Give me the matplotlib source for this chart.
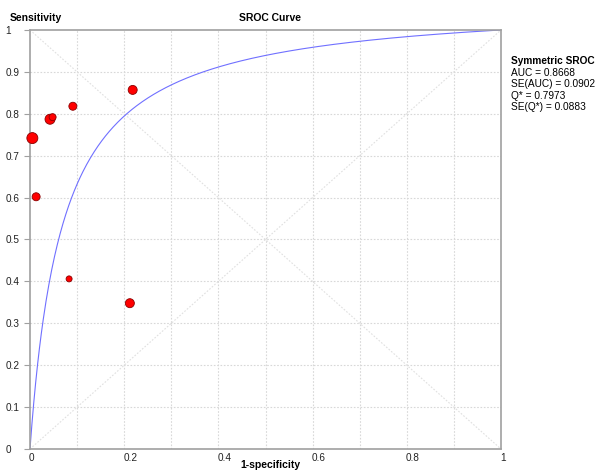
import numpy as np
import matplotlib
matplotlib.use("Agg")
import matplotlib.pyplot as plt
from matplotlib.transforms import ScaledTranslation

plt.rcParams['font.family'] = ['Liberation Sans', 'DejaVu Sans']

# study points (1-specificity, sensitivity)
fpr = [0.005, 0.013, 0.0425, 0.048, 0.091, 0.083, 0.218, 0.212]
sens = [0.742, 0.602, 0.787, 0.792, 0.818, 0.406, 0.857, 0.348]
# relative study weight -> marker size
weight = [11, 8, 10, 7, 8, 6, 9, 9]

# symmetric SROC summary
auc = 0.8668
se_auc = 0.0902
q_star = 0.7973
se_q = 0.0883

ticks = [0, 0.2, 0.4, 0.6, 0.8, 1]
yticks = [0, 0.1, 0.2, 0.3, 0.4, 0.5, 0.6, 0.7, 0.8, 0.9, 1]
ticklabels = ["0", "0.2", "0.4", "0.6", "0.8", "1"]
yticklabels = ["0", "0.1", "0.2", "0.3", "0.4", "0.5", "0.6", "0.7", "0.8", "0.9", "1"]

fig = plt.figure(figsize=(6, 4.76), dpi=100)
ax = fig.add_axes([0.05, 0.0567, 0.785, 0.8803])

# fitted symmetric curve: logit(sens) = D + logit(fpr), D = 2*logit(Q*)
D = 2 * np.log(q_star / (1 - q_star))
xs = np.linspace(0, 1, 500)
odds = np.exp(D) * xs / np.clip(1 - xs, 1e-12, None)
ys = np.where(xs < 1, odds / (1 + odds), 1.0)

grid_c = '#d8d8d8'
for v in np.arange(0.1, 1.0, 0.1):
    ax.axvline(v, color=grid_c, lw=0.8, ls=(0, (1.5, 1.5)), zorder=0)
    ax.axhline(v, color=grid_c, lw=0.8, ls=(0, (1.5, 1.5)), zorder=0)
ax.plot([0, 1], [0, 1], color='#e0e0e0', lw=0.8, ls=(0, (1.5, 1.5)), zorder=0)
ax.plot([0, 1], [1, 0], color='#e0e0e0', lw=0.8, ls=(0, (1.5, 1.5)), zorder=0)

ax.plot(xs, ys, color='#7070ff', lw=0.8, zorder=2)
sizes = [(w * 0.72) ** 2 for w in weight]
ax.scatter(fpr, sens, s=sizes, color='#ff0000', edgecolors='#8a0000', linewidths=0.6, zorder=3, clip_on=False)

ax.set_xlim(0, 1)
ax.set_ylim(0, 1)
ax.set_xticks(ticks)
ax.set_xticklabels(ticklabels)
ax.set_yticks(yticks)
ax.set_yticklabels(yticklabels)
ax.tick_params(labelsize=7.2, colors='#222222')
ax.tick_params(axis='x', length=0, pad=3)
ax.tick_params(axis='y', length=4, width=0.8, color='#a0a0a0', pad=13.5)
for lab in ax.get_yticklabels():
    lab.set_horizontalalignment('left')
shift = ScaledTranslation(-1 / 100, 0, fig.dpi_scale_trans)
for lab in ax.get_xticklabels():
    lab.set_horizontalalignment('left')
    lab.set_transform(lab.get_transform() + shift)
for s in ax.spines.values():
    s.set_color('#a0a0a0')
    s.set_linewidth(1.2)

fig.text(10 / 600, 1 - 18 / 476, "Sensitivity", fontsize=7.5, fontweight='bold', ha='left', va='center')
fig.text(270 / 600, 1 - 18 / 476, "SROC Curve", fontsize=7.5, fontweight='bold', ha='center', va='center')
fig.text(270 / 600, 1 - 465 / 476, "1-specificity", fontsize=7.5, fontweight='bold', ha='center', va='center')

x0 = 511 / 600
fig.text(x0, 1 - 61 / 476, "Symmetric SROC", fontsize=7.3, fontweight='bold', ha='left', va='center')
info = [f"AUC = {auc:.4f}", f"SE(AUC) = {se_auc:.4f}", f"Q* = {q_star:.4f}", f"SE(Q*) = {se_q:.4f}"]
for i, t in enumerate(info):
    fig.text(x0, 1 - (73 + 11.3 * i) / 476, t, fontsize=7.3, ha='left', va='center')

fig.savefig("out.png", dpi=100)
